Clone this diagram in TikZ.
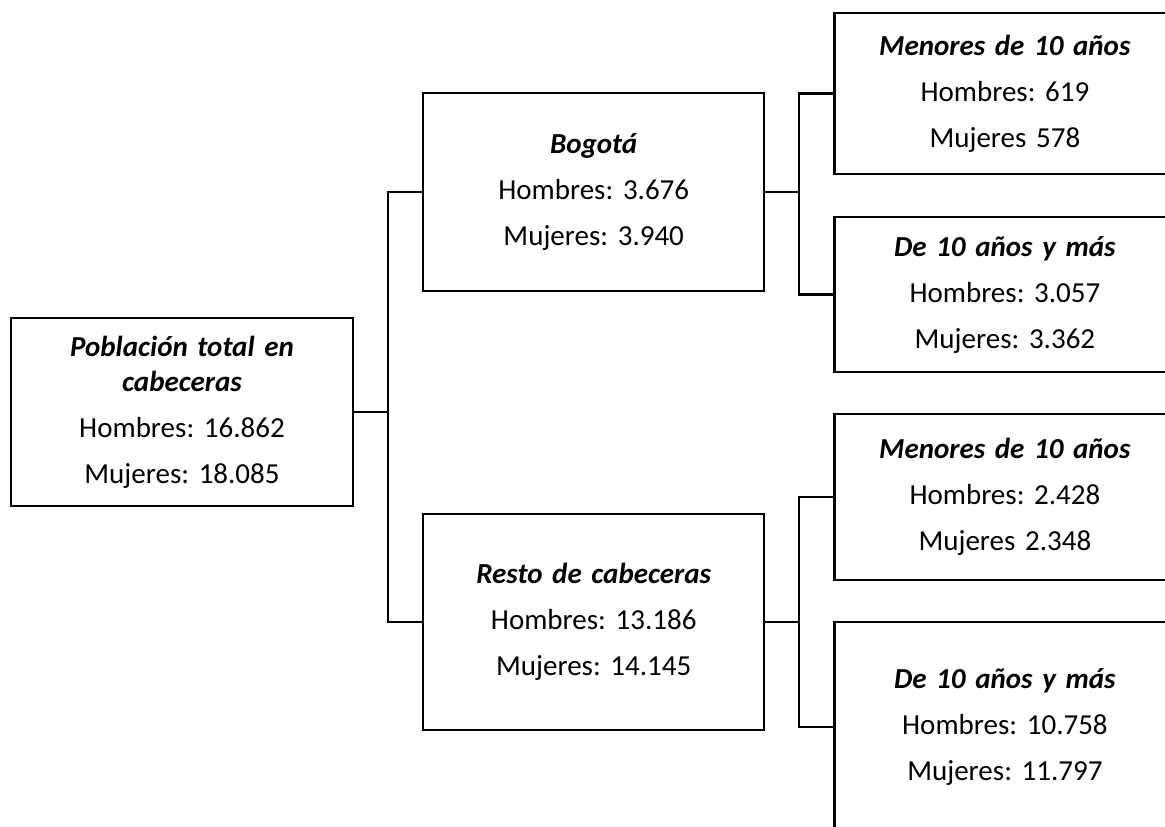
\documentclass[tikz,border=0pt]{standalone}
\usepackage{fontspec}
\setmainfont{Carlito}
\frenchspacing
\usepackage{tikz}
\usetikzlibrary{positioning}
\tikzset{
x=1pt, y=1pt, % one unit is one point
box/.style={draw, line width=2.2pt, align=center, inner sep=0pt, text width=330pt, minimum width=341pt, font=\fontsize{29}{35}\selectfont}, % every box of the tree
link/.style={line width=2.2pt}, % the connecting lines
}
\newcommand{\titulo}[1]{\textbf{\textit{#1}}}

\begin{document}
\begin{tikzpicture}
            \useasboundingbox (0,0) rectangle (1165,827);
            \node[box, minimum width=342pt, minimum height=188pt] (root) at (182,415)
                {\titulo{Población total en\\cabeceras}\\[11pt]Hombres: 16.862\\[11pt]Mujeres: 18.085};
            \node[box, minimum height=198pt, right=68pt of root, yshift=220pt] (bog)
                {\titulo{Bogotá}\\[11pt]Hombres: 3.676\\[11pt]Mujeres: 3.940};
            \node[box, minimum height=216pt, right=68pt of root, yshift=-210pt] (resto)
                {\titulo{Resto de cabeceras}\\[11pt]Hombres: 13.186\\[11pt]Mujeres: 14.145};
            \node[box, minimum height=161pt, right=68pt of bog, yshift=98.5pt] (bogmen)
                {\titulo{Menores de 10 años}\\[11pt]Hombres: 619\\[11pt]Mujeres 578};
            \node[box, minimum height=155pt, right=68pt of bog, yshift=-102.5pt] (bogmay)
                {\titulo{De 10 años y más}\\[11pt]Hombres: 3.057\\[11pt]Mujeres: 3.362};
            \node[box, minimum height=166pt, right=68pt of resto, yshift=125pt] (restomen)
                {\titulo{Menores de 10 años}\\[11pt]Hombres: 2.428\\[11pt]Mujeres 2.348};
            \node[box, minimum height=210pt, right=68pt of resto, yshift=-105pt] (restomay)
                {\titulo{De 10 años y más}\\[11pt]Hombres: 10.758\\[11pt]Mujeres: 11.797};
            \draw[link]
                (root.east) -- ++(34,0) |- (bog.west)
                (root.east) -- ++(34,0) |- (resto.west)
                (bog.east) -- ++(34,0) |- (bogmen.west)
                (bog.east) -- ++(34,0) |- (bogmay.west)
                (resto.east) -- ++(34,0) |- (restomen.west)
                (resto.east) -- ++(34,0) |- (restomay.west)
            ;
        \end{tikzpicture}
\end{document}
